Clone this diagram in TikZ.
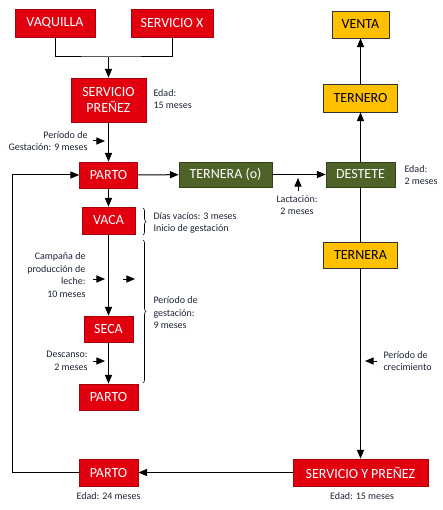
\documentclass[tikz,border=0pt]{standalone}
\usepackage{fontspec}
\setmainfont{Carlito}
\usetikzlibrary{arrows,decorations.pathreplacing}

\definecolor{rojo}{HTML}{E2000F}
\definecolor{rojoborde}{HTML}{A8000A}
\definecolor{verde}{HTML}{4F6228}
\definecolor{verdeborde}{HTML}{34421A}
\definecolor{amarillo}{HTML}{FFC000}
\definecolor{nota}{HTML}{1C2436}

\begin{document}
\begin{tikzpicture}[x=1pt,y=-1pt,>=triangle 45,line width=1pt,
  caja/.style={inner sep=0pt,align=center,font=\fontsize{14pt}{16pt}\selectfont},
  rojo/.style={caja,draw=rojoborde,line width=0.8pt,fill=rojo,text=white},
  verde/.style={caja,draw=verdeborde,line width=0.8pt,fill=verde,text=white},
  amarillo/.style={caja,draw=black!80,line width=0.8pt,fill=amarillo,text=black},
  nota/.style={inner sep=0pt,text=nota,font=\fontsize{10pt}{12.5pt}\selectfont},
  llave/.style={decorate,decoration={brace,amplitude=3pt},line width=0.6pt}]
\useasboundingbox (0,0) rectangle (442,510);
\def\xL{108.5}
\def\xR{360.5}

% columna izquierda
\node[rojo,minimum width=80,minimum height=28] (vaquilla) at (55,23) {VAQUILLA};
\node[rojo,minimum width=82,minimum height=28] (servx) at (172,23) {SERVICIO X};
\node[rojo,minimum width=75,minimum height=44] (servp) at (\xL,100) {SERVICIO\\PREÑEZ};
\node[rojo,minimum width=58,minimum height=26] (partoA) at (\xL,175) {PARTO};
\node[rojo,minimum width=53,minimum height=27] (vaca) at (\xL,220.5) {VACA};
\node[rojo,minimum width=49,minimum height=26] (seca) at (\xL,329) {SECA};
\node[rojo,minimum width=59,minimum height=26] (partoC) at (\xL,397) {PARTO};
\node[rojo,minimum width=59,minimum height=27] (partoD) at (\xL,472.5) {PARTO};

% columna derecha
\node[verde,minimum width=93,minimum height=25] (ternerao) at (225.5,174.5) {TERNERA (o)};
\node[verde,minimum width=69,minimum height=25] (destete) at (\xR,174.5) {DESTETE};
\node[amarillo,minimum width=74,minimum height=28] (ternero) at (\xR,98) {TERNERO};
\node[amarillo,minimum width=57,minimum height=27] (venta) at (\xR,24.5) {VENTA};
\node[amarillo,minimum width=74,minimum height=26] (ternera) at (\xR,255) {TERNERA};
\node[rojo,minimum width=135,minimum height=27] (servyp) at (\xR,472.5) {SERVICIO Y PREÑEZ};

\coordinate (union) at (\xL,57);
\coordinate (esquina) at (12,472.5);

\draw (vaquilla.south) |- (union) -| (servx.south);
\draw[->] (union) -- (servp.north);
\draw[->] (servp) -- (partoA);
\draw[->] (partoA) -- (ternerao);
\draw[->] (ternerao) -- (destete);
\draw[->] (destete) -- (ternero);
\draw[->] (ternero) -- (venta);
\draw (destete) -- (ternera);
\draw[->] (ternera) -- (servyp);
\draw[->] (servyp) -- (partoD);
\draw[->] (partoD.west) -- (esquina) |- (partoA.west);
\draw[->] (partoA) -- (vaca);
\draw[->] (vaca) -- (seca);
\draw[->] (seca) -- (partoC);

% notas
\node[nota,anchor=west,align=left] (edadA) at (153,99) {Edad:\\15 meses};
\node[nota,anchor=east,align=right] (gestA) at (88,141) {Período de\\Gestación: 9 meses};
\draw[->] (93,141) -- (105,141);
\node[nota,align=center] (lact) at (297,205) {Lactación:\\2 meses};
\draw[->] (298,191) -- (298,178);
\node[nota,anchor=west,align=left] (edadB) at (404,175) {Edad:\\2 meses};

\draw[llave] (143,208) -- (143,235);
\node[nota,anchor=west,align=left] (dias) at (153,223) {Días vacíos: 3 meses\\Inicio de gestación};
\draw[llave] (143,240) -- (143,383);
\node[nota,anchor=west,align=left] (gestB) at (153,313) {Período de\\gestación:\\9 meses};

\node[nota,anchor=east,align=right] (campana) at (86,275) {Campaña de\\producción de\\leche:\\10 meses};
\draw[->] (93,279) -- (105,279);
\draw[->] (123,279) -- (135,279);
\node[nota,anchor=east,align=right] (descanso) at (88,361) {Descanso:\\2 meses};
\draw[->] (93,361) -- (105,361);

\node[nota,anchor=west,align=left] (crec) at (383,361) {Período de\\crecimiento};
\draw[->] (377,361) -- (365,361);

\node[nota] (edadC) at (\xL,496) {Edad: 24 meses};
\node[nota] (edadD) at (362,496) {Edad: 15 meses};
\end{tikzpicture}
\end{document}
